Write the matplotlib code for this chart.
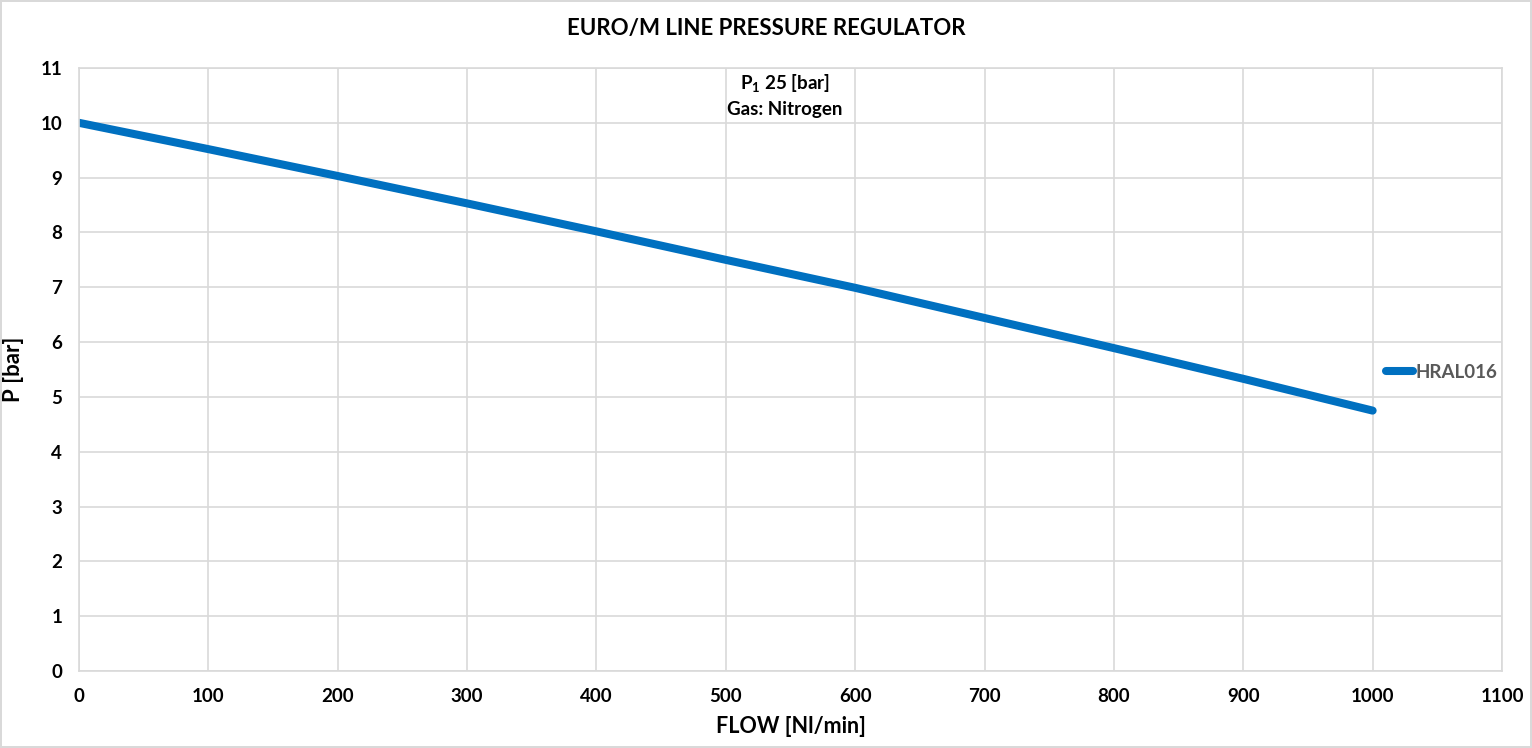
import matplotlib
matplotlib.use("Agg")
import matplotlib.pyplot as plt

# data
flow = [0, 100, 200, 300, 400, 500, 600, 700, 800, 900, 1000]
pressure = [10.0, 9.52, 9.03, 8.53, 8.02, 7.50, 6.99, 6.44, 5.89, 5.33, 4.75]
series_name = "HRAL016"
x_ticks = list(range(0, 1101, 100))
y_ticks = list(range(0, 12))

plt.rcParams['font.family'] = ['Lato', 'DejaVu Sans']
plt.rcParams['font.weight'] = 'bold'
plt.rcParams['mathtext.fontset'] = 'custom'
plt.rcParams['mathtext.rm'] = 'Lato:bold'
plt.rcParams['mathtext.bf'] = 'Lato:bold'

fig = plt.figure(figsize=(15.32, 7.48), dpi=100)
fig.patch.set_edgecolor('#d9d9d9')
fig.patch.set_linewidth(1.5)
ax = fig.add_axes([79/1532, 1-671/748, (1502-79)/1532, (671-68)/748])

ax.plot(flow, pressure, color='#0070c0', lw=5.8, solid_capstyle='round', label=series_name)

ax.set_xlim(0, 1100)
ax.set_ylim(0, 11)
ax.set_xticks(x_ticks)
ax.set_yticks(y_ticks)
ax.grid(True, color='#d9d9d9', lw=1.2)
ax.set_axisbelow(True)
for s in ax.spines.values():
    s.set_color('#d9d9d9')
    s.set_linewidth(1.2)
ax.tick_params(length=0, labelsize=13.5, pad=12, colors='black')
for lab in ax.get_xticklabels() + ax.get_yticklabels():
    lab.set_fontweight('bold')

ax.set_xlabel("FLOW [Nl/min]", fontsize=15.5, fontweight='bold', labelpad=8)
ax.set_ylabel("P [bar]", fontsize=16, fontweight='bold', labelpad=12)
fig.text(0.5, 1-28/748, "EURO/M LINE PRESSURE REGULATOR", ha='center', va='center',
         fontsize=16, fontweight='bold')

ax.text(0.496, 1-(84-68)/603, r"P$_{\mathbf{1}}$ 25 [bar]", transform=ax.transAxes,
        ha='center', va='center', fontsize=13.5, fontweight='bold')
ax.text(0.496, 1-(109-68)/603, "Gas: Nitrogen", transform=ax.transAxes,
        ha='center', va='center', fontsize=13.5, fontweight='bold')

leg = ax.legend(loc='center left', bbox_to_anchor=((1386-79)/1423, 1-(372-68)/603),
                frameon=False, handlelength=1.45, handletextpad=0.1, borderaxespad=0,
                borderpad=0, prop={'size': 13.5, 'weight': 'bold'}, labelcolor='#595959')

fig.savefig("out.png", dpi=100)
